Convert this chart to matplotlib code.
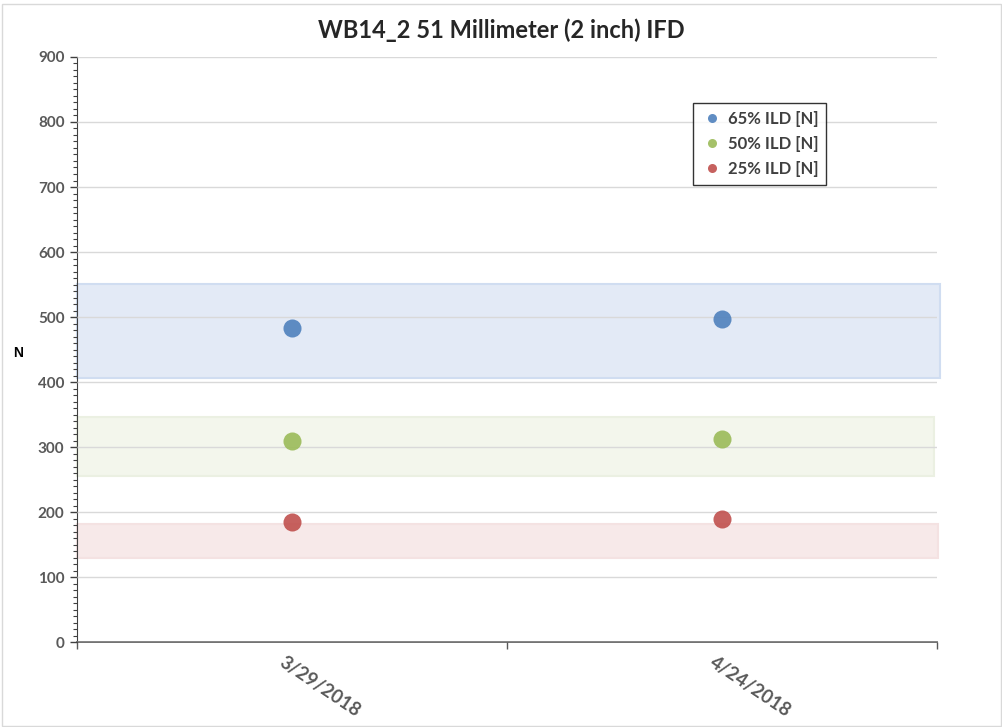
import matplotlib
matplotlib.use("Agg")
import matplotlib.pyplot as plt
from matplotlib.patches import Rectangle
import matplotlib.transforms as mtransforms

plt.rcParams['font.family'] = ['Lato', 'DejaVu Sans']

dates = ["3/29/2018", "4/24/2018"]
ild65 = [483, 497]
ild50 = [309, 312]
ild25 = [185, 189]
series_names = ["65% ILD [N]", "50% ILD [N]", "25% ILD [N]"]
# bands: (low, high)
band65 = (406, 551)
band50 = (255, 346)
band25 = (129, 182)

colors = ["#4F81BD", "#9BBB59", "#C0504D"]

fig = plt.figure(figsize=(10.03, 7.27), dpi=100)
ax = fig.add_axes([0.0768, 0.1169, 0.8574, 0.8047])

# figure border
fig.patches.append(Rectangle((0.002, 0.002), 0.996, 0.993, transform=fig.transFigure,
                             fill=False, edgecolor="#D9D9D9", linewidth=1))

xs = [0.5, 1.5]

# bands
ax.add_patch(Rectangle((0, band65[0]), 2.007, band65[1]-band65[0], facecolor="#E3EAF6",
                       edgecolor="#D0DDF1", linewidth=1.5, clip_on=False, zorder=1))
ax.add_patch(Rectangle((0, band50[0]), 1.993, band50[1]-band50[0], facecolor="#F3F6EC",
                       edgecolor="#EBF0E2", linewidth=1.5, clip_on=False, zorder=1))
ax.add_patch(Rectangle((0, band25[0]), 2.002, band25[1]-band25[0], facecolor="#F7E9E9",
                       edgecolor="#F4E2E2", linewidth=1.5, clip_on=False, zorder=1))

for vals, c, name in zip([ild65, ild50, ild25], colors, series_names):
    ax.plot(xs, vals, linestyle="none", marker="o", markersize=13, color=c,
            alpha=0.9, markeredgewidth=0, label=name, zorder=3)

ax.set_xlim(0, 2)
ax.set_ylim(0, 900)
ax.set_yticks(range(0, 901, 100))
ax.set_yticks(range(0, 901, 10), minor=True)
ax.yaxis.grid(True, which="major", color="#D9D9D9", linewidth=1, zorder=2)
ax.set_axisbelow(False)
ax.set_xticks([0, 1, 2])
ax.set_xticklabels([])
ax.tick_params(axis="x", direction="out", length=5, color="#595959", width=1)
ax.tick_params(axis="y", which="major", direction="out", length=5, color="#404040", width=1,
               labelsize=11, labelcolor="#595959", pad=4)
ax.tick_params(axis="y", which="minor", direction="out", length=3, color="#404040", width=0.8)
for lab in ax.get_yticklabels():
    lab.set_fontweight("bold")

for s in ["top", "right"]:
    ax.spines[s].set_visible(False)
ax.spines["left"].set_color("#404040")
ax.spines["bottom"].set_color("#595959")
ax.spines["bottom"].set_linewidth(1.2)

# x labels
trans = mtransforms.blended_transform_factory(ax.transData, ax.transAxes)
for x, d in zip(xs, dates):
    ax.text(x - 0.014, -0.02, d, transform=trans, rotation=-34, rotation_mode="anchor",
            ha="left", va="top", fontsize=13.5, fontweight="bold", color="#595959")

fig.text(0.018, 0.515, "N", ha="center", va="center", fontsize=10,
         fontweight="bold", color="black", family=["Liberation Sans", "DejaVu Sans"])

fig.text(0.5, 0.958, "WB14_2 51 Millimeter (2 inch) IFD", ha="center", va="center",
         fontsize=17, fontweight="bold", color="#262626")

leg = ax.legend(loc="upper left", bbox_to_anchor=(0.707, 0.935), frameon=True, fancybox=False,
                edgecolor="black", fontsize=12, markerscale=0.5, handletextpad=0.3,
                handlelength=1.3, borderpad=0.45, labelspacing=0.55)
leg.get_frame().set_linewidth(1)
for t in leg.get_texts():
    t.set_color("#404040")
    t.set_fontweight("bold")

fig.savefig("out.png", dpi=100)
